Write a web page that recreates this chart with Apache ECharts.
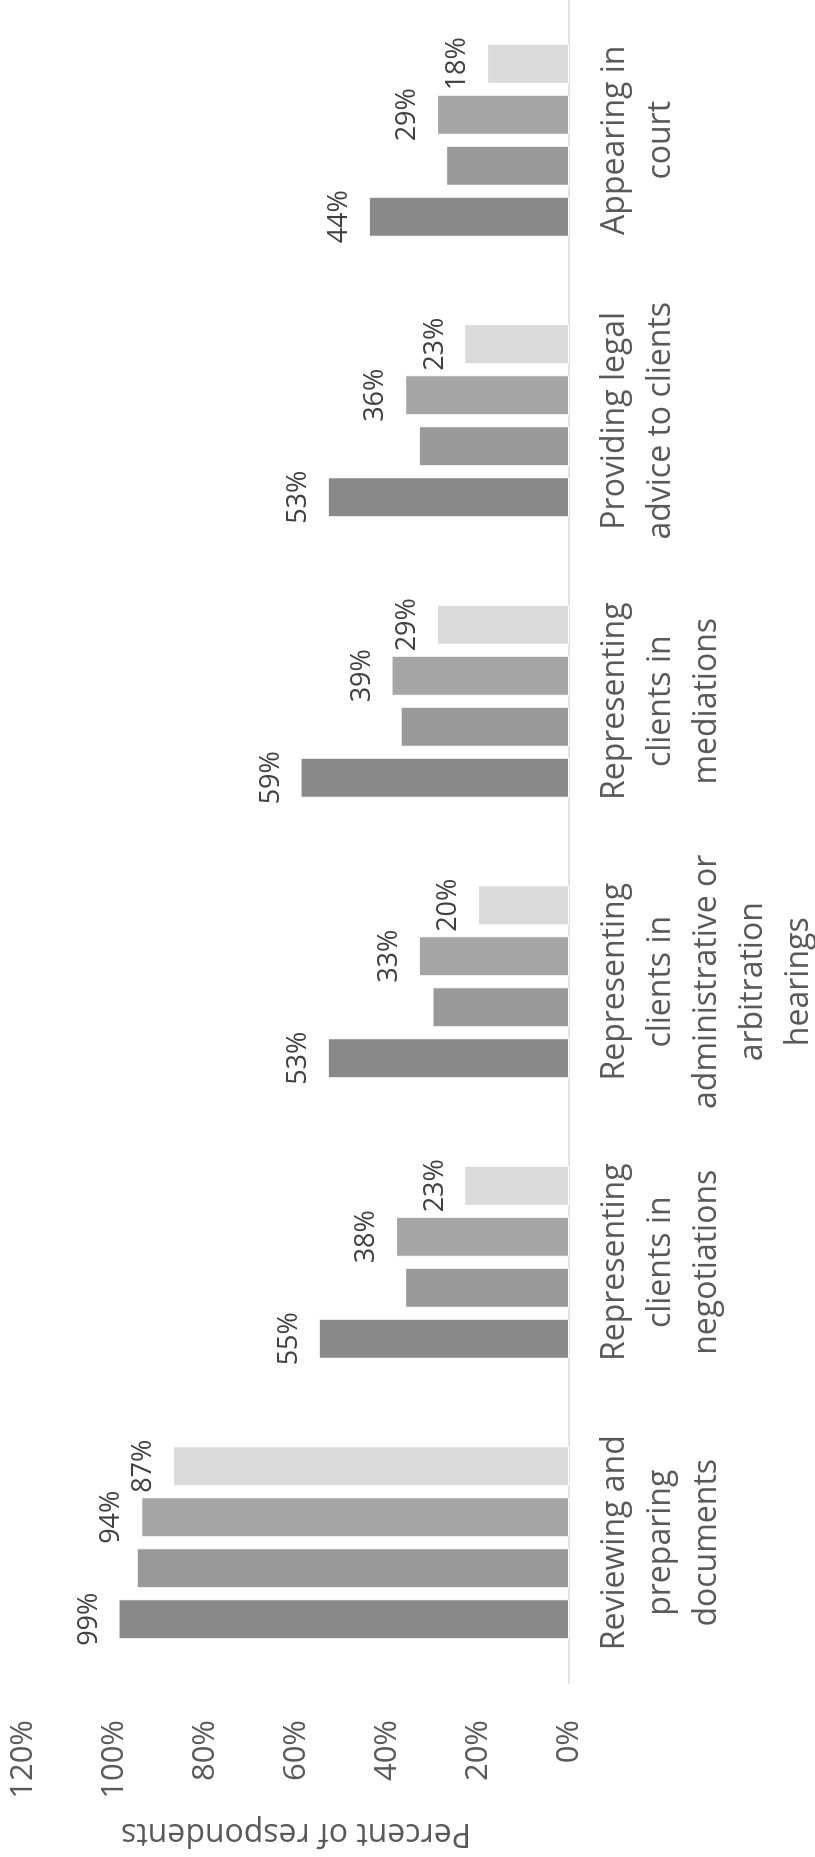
<!DOCTYPE html>
<html>
<head>
<meta charset="utf-8">
<script src="https://cdn.jsdelivr.net/npm/echarts@6/dist/echarts.min.js"></script>
<style>
  html, body { margin: 0; padding: 0; background: #ffffff; }
  body { width: 815px; height: 1857px; overflow: hidden; position: relative; }
  #chart {
    position: absolute; left: 0; top: 1857px;
    width: 1857px; height: 815px;
    transform-origin: 0 0; transform: rotate(-90deg);
  }
</style>
</head>
<body>
<div id="chart"></div>
<script>
const categories = [
  "Reviewing and\npreparing\ndocuments",
  "Representing\nclients in\nnegotiations",
  "Representing\nclients in\nadministrative or\narbitration\nhearings",
  "Representing\nclients in\nmediations",
  "Providing legal\nadvice to clients",
  "Appearing in\ncourt"
];
const series1 = [99, 55, 53, 59, 53, 44];
const series2 = [95, 36, 30, 37, 33, 27];
const series3 = [94, 38, 33, 39, 36, 29];
const series4 = [87, 23, 20, 29, 23, 18];
const valueTicks = { min: 0, max: 120, interval: 20 };
const axisTitle = "Percent of respondents";

const FONT = "'Open Sans', 'Noto Sans', sans-serif";
const colors = ["#898989", "#999999", "#a5a5a5", "#dadada"];

function makeSeries(data, color, showLabel) {
  return {
    type: "bar",
    data: data,
    barWidth: 40,
    barGap: "27.5%",
    itemStyle: { color: color, borderColor: "#ffffff", borderWidth: 1 },
    label: {
      show: showLabel,
      position: "top",
      distance: 16,
      formatter: "{c}%",
      fontFamily: FONT,
      fontSize: 27,
      color: "#404040"
    },
    emphasis: { disabled: true },
    animation: false
  };
}

const chart = echarts.init(document.getElementById("chart"), null, { renderer: "canvas" });
chart.setOption({
  animation: false,
  backgroundColor: "#ffffff",
  grid: { left: 174, right: 0, top: 23, bottom: 246, containLabel: false, outerBoundsMode: "none" },
  xAxis: {
    type: "category",
    data: categories,
    axisLine: { show: true, lineStyle: { color: "#d9d9d9", width: 1.5 } },
    axisTick: { show: false },
    axisLabel: {
      interval: 0,
      margin: 23,
      fontFamily: FONT,
      fontSize: 32,
      lineHeight: 46,
      color: "#595959",
      align: "center"
    }
  },
  yAxis: {
    type: "value",
    min: valueTicks.min,
    max: valueTicks.max,
    interval: valueTicks.interval,
    name: axisTitle,
    nameLocation: "middle",
    nameRotate: 90,
    nameGap: 134,
    nameTextStyle: { fontFamily: FONT, fontSize: 32, color: "#595959" },
    axisLine: { show: false },
    axisTick: { show: false },
    splitLine: { show: false },
    axisLabel: {
      formatter: "{value}%",
      margin: 37,
      fontFamily: FONT,
      fontSize: 31,
      color: "#595959"
    }
  },
  series: [
    makeSeries(series1, colors[0], true),
    makeSeries(series2, colors[1], false),
    makeSeries(series3, colors[2], true),
    makeSeries(series4, colors[3], true)
  ]
});
</script>
</body>
</html>
